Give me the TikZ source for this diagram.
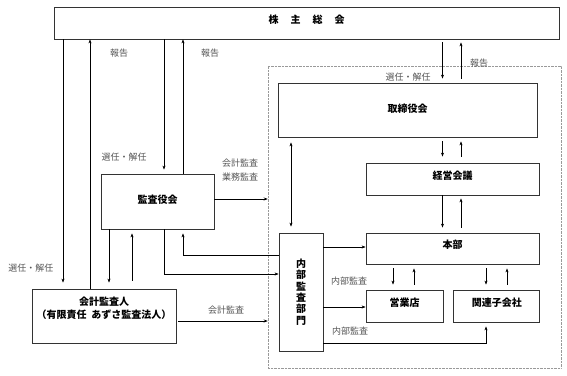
\documentclass[tikz,border=0pt]{standalone}
\usepackage{fontspec}
\setmainfont{Noto Sans CJK JP}
\usepackage{tikz}
\usetikzlibrary{arrows.meta,positioning,calc}
\definecolor{labelgray}{HTML}{555555}
\definecolor{linegray}{HTML}{333333}
\definecolor{framegray}{HTML}{999999}

\begin{document}
\begin{tikzpicture}[
  x=1pt,y=-1pt,
  font=\fontsize{10}{12}\selectfont\bfseries,
  box/.style={draw=linegray,line width=0.8pt,align=center,inner sep=0pt,text height=5pt,text depth=5pt},
  lbl/.style={text=labelgray,font=\fontsize{9}{11}\selectfont,inner sep=0pt,align=center},
  grpframe/.style={draw=framegray,line width=0.5pt,dash pattern=on 0.6pt off 0.8pt,inner sep=0pt},
  arr/.style={-{Stealth[length=4pt,width=3pt]},line width=0.6pt},
  dbl/.style={{Stealth[length=4pt,width=3pt]}-{Stealth[length=4pt,width=3pt]},line width=0.6pt}
]
\useasboundingbox (0,0) rectangle (567,375);

% columns and rows of the connectors
\coordinate (cA) at (63,0);
\coordinate (cB) at (90,0);
\coordinate (cE) at (109,0);
\coordinate (cF) at (132,0);
\coordinate (cC) at (164,0);
\coordinate (cD) at (183,0);
\coordinate (c2) at (291,0);
\coordinate (c3a) at (442.5,0);
\coordinate (c3b) at (461,0);
\coordinate (c4a) at (393,0);
\coordinate (c4b) at (414,0);
\coordinate (c5a) at (486,0);
\coordinate (c5b) at (507,0);
\coordinate (rA) at (0,199);
\coordinate (rB) at (0,255);
\coordinate (rC) at (0,274);
\coordinate (rD) at (0,247);
\coordinate (rE) at (0,307);
\coordinate (rF) at (0,343);
\coordinate (rG) at (0,321);

\node[grpframe,minimum width=293pt,minimum height=302pt] (grp) at (414.5,217) {};

\node[box,minimum width=505pt,minimum height=32pt] (agm) at (306.5,23) {株\hspace{12pt}主\hspace{12pt}総\hspace{12pt}会};
\node[box,minimum width=259pt,minimum height=54pt,text height=7pt,text depth=2.5pt] (board) at (407.5,110) {取締役会};
\node[box,minimum width=173pt,minimum height=32pt] (keiei) at (452.5,179) {経営会議};
\node[box,minimum width=173pt,minimum height=31pt] (honbu) at (452.5,248.5) {本部};
\node[box,minimum width=77pt,minimum height=32pt] (eigyo) at (404.5,306) {営業店};
\node[box,minimum width=86pt,minimum height=32pt,right=10pt of eigyo] (kanren) {関連子会社};
\node[box,minimum width=44pt,minimum height=118pt,text height={},text depth={},font=\fontsize{10}{11.4}\selectfont\bfseries] (naibu) at (301,292) {内\\部\\監\\査\\部\\門};
\node[box,minimum width=113pt,minimum height=55pt,text height=7pt,text depth=2.5pt] (kansa) at (157.5,201.5) {監査役会};
\node[box,minimum width=144pt,minimum height=54pt,text height={},text depth={},font=\fontsize{10}{13}\selectfont\bfseries] (kaikei) at (104,316) {会計監査人\\（有限責任\ \ あずさ監査法人）\\[4pt]\mbox{}};

% labels
\node[lbl] (rep1) at (119,53) {報告};
\node[lbl] (rep2) at (210,53) {報告};
\node[lbl] (rep3) at (479,63) {報告};
\node[lbl] (sel1) at (31,268) {選任・解任};
\node[lbl] (sel2) at (124,157) {選任・解任};
\node[lbl] (sel3) at (408,77) {選任・解任};
\node[lbl,font=\fontsize{9}{14}\selectfont] (aud1) at (240,170) {会計監査\\業務監査};
\node[lbl] (aud2) at (226,310) {会計監査};
\node[lbl] (int1) at (349,281) {内部監査};
\node[lbl] (int2) at (350,331) {内部監査};

% shareholders' meeting
\draw[arr,shorten >=6pt] (cA |- agm.south) -- (cA |- kaikei.north);
\draw[arr] (cB |- kaikei.north) -- (cB |- agm.south);
\draw[arr,shorten >=4pt] (cC |- agm.south) -- (cC |- kansa.north);
\draw[arr] (cD |- kansa.north) -- (cD |- agm.south);
\draw[arr,shorten <=3pt,shorten >=4pt] (c3a |- agm.south) -- (c3a |- board.north);
\draw[arr,shorten <=4pt,shorten >=3pt] (c3b |- board.north) -- (c3b |- agm.south);

% auditors
\draw[arr,shorten >=6pt] (cE |- kansa.south) -- (cE |- kaikei.north);
\draw[arr,shorten <=8pt,shorten >=4pt] (cF |- kaikei.north) -- (cF |- kansa.south);
\draw[arr] (kansa.east |- rA) -- (grp.west |- rA);
\draw[arr,shorten <=2pt] (kaikei.east |- rG) -- (grp.west |- rG);

% internal audit
\draw[arr] (cC |- kansa.south) |- (naibu.west |- rC);
\draw[arr,shorten >=4pt] (naibu.west |- rB) -| (cD |- kansa.south);
\draw[dbl,shorten <=5pt,shorten >=6pt] (c2 |- board.south) -- (c2 |- naibu.north);
\draw[arr] (naibu.east |- rD) -- (honbu.west |- rD);
\draw[arr] (naibu.east |- rE) -- (eigyo.west |- rE);
\draw[arr,shorten >=4pt] (naibu.east |- rF) -| (c5a |- kanren.south);

% management
\draw[arr,shorten <=4pt,shorten >=6pt] (c3a |- board.south) -- (c3a |- keiei.north);
\draw[arr,shorten <=6pt,shorten >=4pt] (c3b |- keiei.north) -- (c3b |- board.south);
\draw[arr,shorten >=5pt] (c3a |- keiei.south) -- (c3a |- honbu.north);
\draw[arr,shorten <=5pt,shorten >=3pt] (c3b |- honbu.north) -- (c3b |- keiei.south);
\draw[arr,shorten <=4pt,shorten >=5pt] (c4a |- honbu.south) -- (c4a |- eigyo.north);
\draw[arr,shorten <=5pt,shorten >=4pt] (c4b |- eigyo.north) -- (c4b |- honbu.south);
\draw[arr,shorten <=4pt,shorten >=5pt] (c5a |- honbu.south) -- (c5a |- kanren.north);
\draw[arr,shorten <=5pt,shorten >=4pt] (c5b |- kanren.north) -- (c5b |- honbu.south);
\end{tikzpicture}
\end{document}
